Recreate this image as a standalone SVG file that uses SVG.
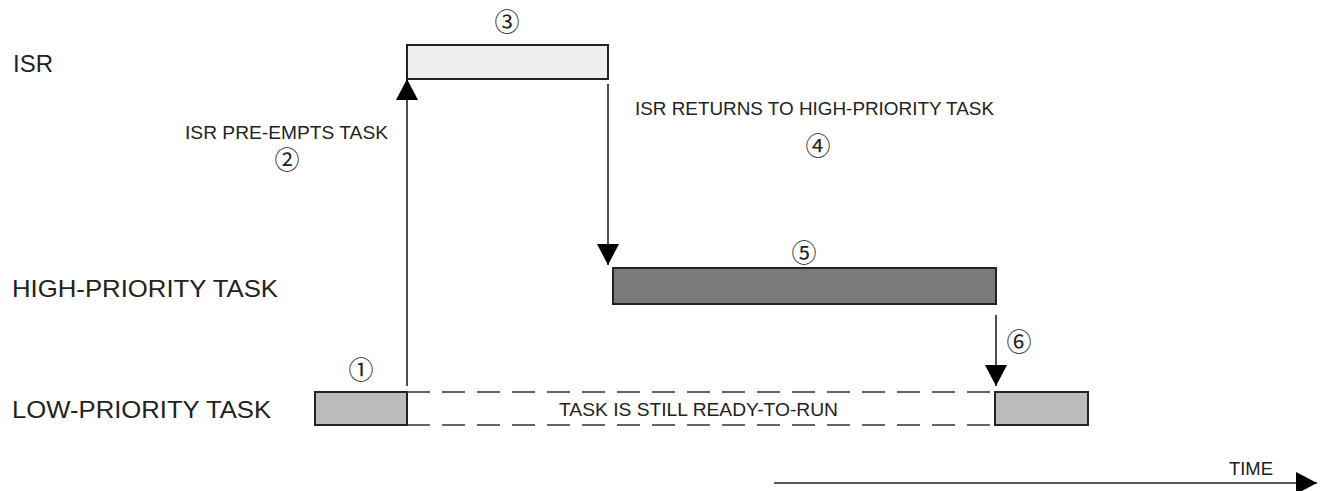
<svg xmlns="http://www.w3.org/2000/svg" width="1325" height="491" viewBox="0 0 1325 491">
<style>
text{font-family:"Liberation Sans",Arial,sans-serif;fill:#222}
.lane{font-size:24px}
.lbl{font-size:18.5px;text-anchor:middle}
.num{font-family:"Noto Sans CJK JP","DejaVu Sans",sans-serif;font-size:25px;text-anchor:middle;fill:#222}
.box{stroke:#222;stroke-width:2}
.conn{stroke:#222;stroke-width:1.6;fill:none}
.dash{stroke:#333;stroke-width:1.6;stroke-dasharray:23 12;fill:none}
</style>
<defs>
<marker id="ah" markerUnits="userSpaceOnUse" markerWidth="22" markerHeight="22" refX="21" refY="11" orient="auto">
<path d="M0,0 L21,11 L0,22 Z" fill="#000"/>
</marker>
</defs>
<rect width="1325" height="491" fill="#fff"/>
<g id="lanes">
<text class="lane" x="13" y="72" textLength="40" lengthAdjust="spacingAndGlyphs">ISR</text>
<text class="lane" x="12" y="297" textLength="266" lengthAdjust="spacingAndGlyphs">HIGH-PRIORITY TASK</text>
<text class="lane" x="12" y="418" textLength="259" lengthAdjust="spacingAndGlyphs">LOW-PRIORITY TASK</text>
</g>
<g id="isr-box">
<rect class="box" x="407" y="45" width="201" height="34" fill="#efefef"/>
<text class="num" x="507" y="31">③</text>
</g>
<g id="high-box">
<rect class="box" x="613" y="268" width="383" height="36" fill="#7a7a7a"/>
<text class="num" x="804" y="262">⑤</text>
</g>
<g id="low-box-1">
<rect class="box" x="315" y="392" width="92" height="33" fill="#bcbcbc"/>
<text class="num" x="361" y="379">①</text>
</g>
<g id="low-ready">
<path class="dash" d="M407,392 H995 M407,425 H995"/>
<text class="lbl" x="698.5" y="416" textLength="279" lengthAdjust="spacingAndGlyphs">TASK IS STILL READY-TO-RUN</text>
</g>
<g id="low-box-2">
<rect class="box" x="995" y="392" width="93" height="33" fill="#bcbcbc"/>
</g>
<g id="connectors">
<line class="conn" x1="407" y1="386" x2="407" y2="79" marker-end="url(#ah)"/>
<line class="conn" x1="608" y1="84" x2="608" y2="265" marker-end="url(#ah)"/>
<line class="conn" x1="996" y1="315" x2="996" y2="386" marker-end="url(#ah)"/>
<line class="conn" x1="774" y1="483" x2="1317" y2="483" stroke-width="2" marker-end="url(#ah)"/>
</g>
<g id="annotations">
<text class="lbl" x="286.5" y="139" textLength="203" lengthAdjust="spacingAndGlyphs">ISR PRE-EMPTS TASK</text>
<text class="num" x="287" y="169">②</text>
<text class="lbl" x="814.5" y="115" textLength="359" lengthAdjust="spacingAndGlyphs">ISR RETURNS TO HIGH-PRIORITY TASK</text>
<text class="num" x="818" y="155">④</text>
<text class="num" x="1019" y="351">⑥</text>
<text x="1229" y="475" font-size="17.5" textLength="44" lengthAdjust="spacingAndGlyphs">TIME</text>
</g>
</svg>
